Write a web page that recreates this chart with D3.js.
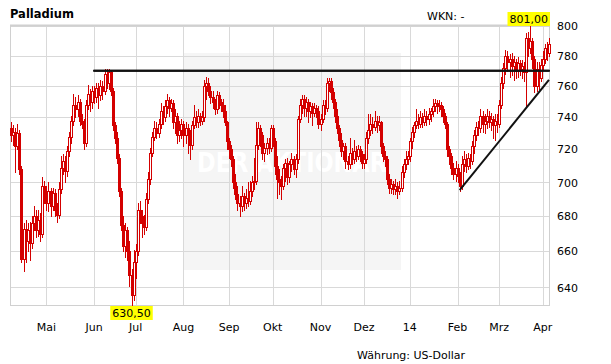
<!DOCTYPE html>
<html><head><meta charset="utf-8">
<script src="https://cdn.jsdelivr.net/npm/d3@7"></script>
<style>
body{margin:0;background:#fff}
svg{display:block}
text{font-family:"DejaVu Sans",Verdana,sans-serif}
</style>
</head><body>
<svg id="c" width="611" height="364"></svg>
<script>
const title = "Palladium";
const wknText = "WKN: -";
const currencyText = "Währung: US-Dollar";
const watermarkText = "DER AKTIONÄR";
const monthLabels = ["Mai","Jun","Jul","Aug","Sep","Okt","Nov","Dez","14","Feb","Mrz","Apr"];
const yTicks = [640,660,680,700,720,740,760,780,800];
const firstDay = "2013-04-08", lastDay = "2014-04-04";

const opens = [733,729,731,722,730,708,656,673,666,672,665,676,680,672,678,670,698,693,688,695,
686,694,684,681,696,709,713,707,719,728,738,748,745,750,738,736,724,748,755,750,
757,753,759,754,760,757,768,762,769,757,735,727,715,695,675,663,672,660,647,636,
654,660,684,680,676,674,690,702,718,728,733,730,736,744,740,747,751,746,749,737,
741,729,732,736,729,733,729,723,735,740,737,741,738,740,760,762,757,753,750,745,
754,750,748,744,737,725,720,714,700,693,688,686,692,688,691,689,695,700,701,723,
733,729,718,721,724,721,733,725,710,702,700,698,709,712,703,711,714,708,714,739,
748,752,746,750,744,747,743,746,744,736,739,748,746,762,763,756,750,741,733,726,
719,722,713,711,718,714,719,716,720,717,712,714,727,732,736,734,738,735,737,722,
716,714,702,697,699,696,698,695,697,706,711,714,716,725,731,735,738,736,740,737,
741,739,742,744,747,749,747,748,745,741,736,720,716,709,705,709,704,698,711,714,
710,715,713,722,729,734,733,741,736,738,741,737,739,735,738,736,748,762,772,780,
776,778,773,776,770,775,771,773,769,792,785,790,778,760,771,765,774,778,785,782];
const highs = [737,735,733,736,732,710,676,678,676,677,680,686,684,684,682,703,701,698,700,697,
697,696,688,700,716,717,716,722,731,741,755,753,754,752,742,739,751,761,758,760,
760,762,762,764,763,771,771,771,770,759,737,731,717,697,680,676,674,666,650,661,
664,688,689,684,681,694,706,721,731,738,737,739,749,747,751,755,753,752,751,745,
743,738,739,738,737,736,732,738,748,744,745,743,744,764,766,765,760,757,752,757,
756,752,752,748,738,727,723,716,705,698,692,698,694,696,700,701,704,715,737,737,
735,731,724,727,727,735,735,727,716,708,704,711,714,715,713,718,716,717,741,752,
754,754,753,752,750,749,749,748,747,742,751,751,765,765,765,759,752,745,735,730,
724,724,716,727,721,726,722,723,722,719,717,731,742,742,740,744,741,741,738,724,
719,716,705,702,701,702,700,701,710,714,719,719,727,734,737,745,742,744,743,745,
744,746,746,752,752,751,751,750,747,743,737,722,718,712,713,711,706,716,719,717,
718,717,725,732,737,738,745,744,742,745,744,743,741,742,742,751,766,775,784,783,
781,782,780,778,779,777,777,776,795,796,801,792,780,776,776,778,783,788,789,792];
const lows = [725,723,706,720,705,654,649,654,660,655,662,672,668,669,666,668,688,684,683,680,
684,680,677,679,694,705,700,704,716,724,735,740,741,735,733,720,722,745,744,746,
749,750,746,751,752,755,759,758,754,732,724,712,692,672,660,657,655,641,630.5,633,
645,658,676,668,670,672,688,699,716,726,727,728,733,736,738,743,741,744,733,730,
724,725,727,722,724,718,714,720,733,734,734,735,736,738,752,754,749,746,742,743,
746,744,740,735,720,715,710,697,690,684,680,683,684,685,686,687,692,696,699,720,
722,714,713,717,718,719,722,705,691,693,690,696,701,699,700,707,705,703,712,737,
743,741,741,737,740,735,741,740,733,732,737,742,744,757,752,746,737,730,722,716,
714,709,708,709,711,712,713,714,713,709,709,712,724,729,730,732,731,732,718,713,
710,699,694,694,693,693,691,693,695,703,708,711,713,721,728,733,733,734,734,735,
735,736,738,741,744,743,744,741,737,733,716,711,705,702,701,700,695,696,707,706,
708,709,711,718,726,729,731,731,730,733,734,732,727,726,731,734,746,759,768,770,
766,767,764,765,766,767,765,763,747,780,782,772,756,757,758,763,771,775,777,780];
const closes = [729,731,722,730,708,656,673,666,672,665,676,680,672,678,670,698,693,688,695,686,
694,684,681,696,709,713,707,719,728,738,748,745,750,738,736,724,748,755,750,757,
753,759,754,760,757,768,762,769,757,735,727,715,695,675,663,672,660,647,636,654,
660,684,680,676,674,690,702,718,728,733,730,736,744,740,747,751,746,749,737,741,
729,732,736,729,733,729,723,735,740,737,741,738,740,760,762,757,753,750,745,754,
750,748,744,737,725,720,714,700,693,688,686,692,688,691,689,695,700,701,723,733,
729,718,721,724,721,733,725,710,702,700,698,709,712,703,711,714,708,714,739,748,
752,746,750,744,747,743,746,744,736,739,748,746,762,763,756,750,741,733,726,719,
722,713,711,718,714,719,716,720,717,712,714,727,732,736,734,738,735,737,722,716,
714,702,697,699,696,698,695,697,706,711,714,716,725,731,735,738,736,740,737,741,
739,742,744,747,749,747,748,745,741,736,720,716,709,705,709,704,698,711,714,710,
715,713,722,729,734,733,741,736,738,741,737,739,735,738,736,748,762,772,780,776,
778,773,776,770,775,771,773,769,792,785,790,778,760,771,765,774,778,785,782,788];

const resistance = [["2013-06-03",770],["2014-04-04",770]];
const support = [["2014-02-04",695.5],["2014-04-04",764]];

const svg = d3.select("#c");
const fmtKey = d3.timeFormat("%Y-%m-%d");
const parse = d3.timeParse("%Y-%m-%d");
const days = d3.timeDay.range(parse(firstDay), d3.timeDay.offset(parse(lastDay),1))
  .filter(d => d.getDay() !== 0 && d.getDay() !== 6);
const keys = days.map(fmtKey);
const data = keys.map((k,i)=>({k, o:opens[i], h:highs[i], l:lows[i], c:closes[i]}));

const L = 10, R = 550, T = 26, B = 305;
const x = d3.scaleBand().domain(keys).range([L, R]).padding(0);
const bw = x.bandwidth();
const cx = k => Math.round(x(k) + bw/2) + 0.5;
const y = d3.scaleLog().domain([630.5, 800]).range([B, T]);
const py = v => Math.round(y(v)) + 0.5;

// month ticks: first trading day of each month
const monthStarts = [];
let prevM = null;
days.forEach((d,i)=>{ const m = d.getMonth(); if (prevM !== null && m !== prevM) monthStarts.push(keys[i]); prevM = m; });

// watermark
svg.append("rect").attr("x",184).attr("y",53).attr("width",217).attr("height",217).attr("fill","#f5f5f5");
svg.append("text").attr("x",292).attr("y",172).attr("text-anchor","middle")
  .attr("font-size",27).attr("font-weight","bold").attr("fill","#ffffff")
  .attr("textLength",190).attr("lengthAdjust","spacingAndGlyphs").text(watermarkText);

// grid
const grid = svg.append("g").attr("stroke","#d9d9d9").attr("stroke-width",1);
grid.selectAll("line.h").data(yTicks).join("line").attr("class","h")
  .attr("x1",L).attr("x2",R).attr("y1",d=>py(d)).attr("y2",d=>py(d));
grid.selectAll("line.v").data(monthStarts).join("line").attr("class","v")
  .attr("x1",d=>cx(d)).attr("x2",d=>cx(d)).attr("y1",T).attr("y2",B);
// border
svg.append("rect").attr("x",L+0.5).attr("y",T-0.5).attr("width",R-L-1).attr("height",B-T+1)
  .attr("fill","none").attr("stroke","#d0d0d0");
svg.append("line").attr("x1",L).attr("x2",R).attr("y1",T-0.5).attr("y2",T-0.5).attr("stroke","#d0d0d0").attr("stroke-width",2);

// candles
const red = "#d40000";
const cg = svg.append("g");
data.forEach(d=>{
  const g = cg.append("g");
  g.append("line").attr("x1",cx(d.k)).attr("x2",cx(d.k))
    .attr("y1",Math.round(y(d.h))).attr("y2",Math.round(y(d.l))+1)
    .attr("stroke",red).attr("stroke-width",1);
  const top = Math.round(y(Math.max(d.o,d.c))), bot = Math.round(y(Math.min(d.o,d.c)));
  g.append("rect").attr("x",cx(d.k)-1).attr("y",top+0.5).attr("width",2).attr("height",Math.max(1,bot-top))
    .attr("fill", d.c > d.o ? "#ffffff" : red).attr("stroke",red).attr("stroke-width",1);
});

// trend lines
const line = d3.line().x(d=>x(d[0])+bw/2).y(d=>y(d[1]));
svg.append("path").attr("d",line([[resistance[0][0],resistance[0][1]],[resistance[1][0],resistance[1][1]]]))
  .attr("fill","none").attr("stroke","#111").attr("stroke-width",2);
svg.append("line").attr("x1",x(resistance[0][0])).attr("x2",R).attr("y1",y(resistance[0][1])).attr("y2",y(resistance[1][1]))
  .attr("stroke","#111").attr("stroke-width",2);
svg.append("path").attr("d",line(support)).attr("fill","none").attr("stroke","#111").attr("stroke-width",2);

// axes
const yAxis = d3.axisRight(y).tickValues(yTicks).tickFormat(d3.format("d")).tickSize(0).tickPadding(7);
const ya = svg.append("g").attr("transform",`translate(${R},0)`).call(yAxis);
ya.select(".domain").remove();
ya.selectAll("text").attr("font-size",11).attr("fill","#000").attr("font-family",'"DejaVu Sans",Verdana,sans-serif');

const xAxis = d3.axisBottom(x).tickValues(monthStarts).tickFormat((d,i)=>monthLabels[i]).tickSize(0).tickPadding(18);
const xa = svg.append("g").attr("transform",`translate(0,${B})`).call(xAxis);
xa.select(".domain").remove();
xa.selectAll("text").attr("font-size",11).attr("fill","#000").attr("font-family",'"DejaVu Sans",Verdana,sans-serif');

// titles
svg.append("text").attr("x",10).attr("y",18).attr("font-size",11.5).attr("font-weight","bold").text(title);
svg.append("text").attr("x",427).attr("y",20).attr("font-size",11).text(wknText);
svg.append("text").attr("x",357).attr("y",359).attr("font-size",11).text(currencyText);

// extreme labels
const fmtDe = v => d3.format(".2f")(v).replace(".",",");
const maxI = d3.maxIndex(highs), minI = d3.minIndex(lows);
function flag(k, v, yTop){
  const g = svg.append("g");
  const t = g.append("text").attr("font-size",11).attr("text-anchor","middle").attr("y",yTop+11).text(fmtDe(v));
  const w = t.node().getComputedTextLength() + 4;
  let c = x(k)+bw/2;
  if (c + w/2 > R) c = R - w/2;
  t.attr("x",c);
  g.insert("rect","text").attr("x",c-w/2).attr("y",yTop).attr("width",w).attr("height",14).attr("fill","#ffff00");
}
flag(keys[maxI], highs[maxI], 12);
flag(keys[minI], lows[minI], 306);
</script>
</body></html>
